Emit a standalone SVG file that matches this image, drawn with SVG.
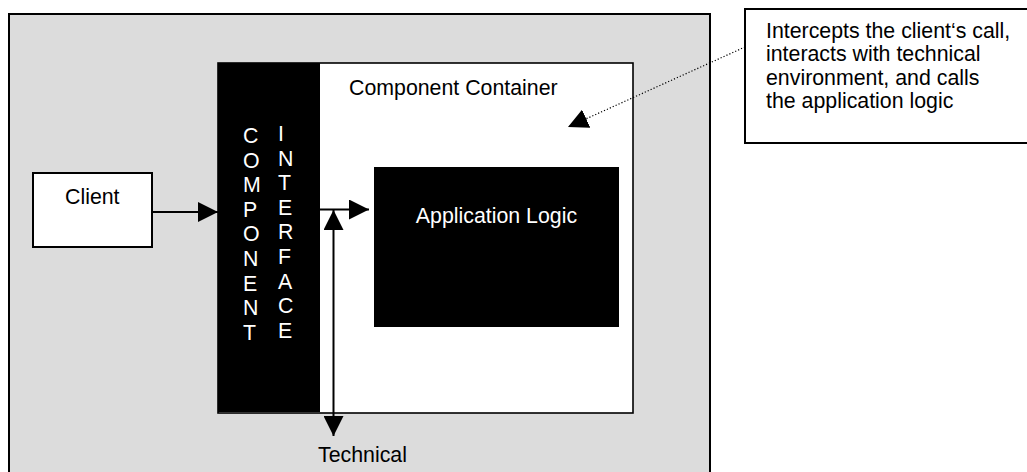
<svg xmlns="http://www.w3.org/2000/svg" width="1027" height="472" viewBox="0 0 1027 472">
  <style>
    .lbl { font-family: "Liberation Sans", Arial, sans-serif; font-size: 21.33px; fill: #000; }
    .inv { fill: #fff; }
    .box { stroke: #000; stroke-width: 2; }
    .conn { stroke: #000; stroke-width: 2; fill: none; }
    .dots { stroke: #000; stroke-width: 1.2; fill: none; stroke-dasharray: 1.2 2; }
  </style>
  <defs>
    <marker id="head" markerUnits="userSpaceOnUse" viewBox="0 0 20 20" refX="20" refY="10" markerWidth="20" markerHeight="20" orient="auto-start-reverse">
      <path d="M0,0 L20,10 L0,20 z" fill="#000"/>
    </marker>
  </defs>

  <!-- runtime environment (outer area) -->
  <g id="environment">
    <rect x="9" y="14" width="701" height="470" fill="#dcdcdc" class="box"/>
    <text class="lbl" x="318" y="462">Technical</text>
  </g>

  <!-- component container with its interface column -->
  <g id="container">
    <rect x="218" y="63" width="415" height="350" fill="#fff" stroke="#000" stroke-width="1.6"/>
    <text class="lbl" x="349" y="95">Component Container</text>
  </g>

  <g id="interface">
    <rect x="218" y="63" width="102" height="349" fill="#000"/>
    <text class="lbl inv" x="243">
      <tspan x="243" y="143">C</tspan>
      <tspan x="243" y="167.6">O</tspan>
      <tspan x="243" y="192.2">M</tspan>
      <tspan x="243" y="216.8">P</tspan>
      <tspan x="243" y="241.4">O</tspan>
      <tspan x="243" y="266">N</tspan>
      <tspan x="243" y="290.6">E</tspan>
      <tspan x="243" y="315.2">N</tspan>
      <tspan x="243" y="339.8">T</tspan>
    </text>
    <text class="lbl inv" x="278">
      <tspan x="278" y="141">I</tspan>
      <tspan x="278" y="165.6">N</tspan>
      <tspan x="278" y="190.2">T</tspan>
      <tspan x="278" y="214.8">E</tspan>
      <tspan x="278" y="239.4">R</tspan>
      <tspan x="278" y="264">F</tspan>
      <tspan x="278" y="288.6">A</tspan>
      <tspan x="278" y="313.2">C</tspan>
      <tspan x="278" y="337.8">E</tspan>
    </text>
  </g>

  <g id="client">
    <rect x="33" y="173" width="119" height="74" fill="#fff" class="box"/>
    <text class="lbl" x="65" y="204">Client</text>
  </g>

  <g id="application-logic">
    <rect x="374" y="167" width="245" height="160" fill="#000"/>
    <text class="lbl inv" x="496.5" y="223" text-anchor="middle">Application Logic</text>
  </g>

  <g id="note">
    <rect x="745" y="9" width="290" height="134" fill="#fff" class="box"/>
    <text class="lbl">
      <tspan x="766" y="38">Intercepts the client‘s call,</tspan>
      <tspan x="766" y="61.4">interacts with technical</tspan>
      <tspan x="766" y="84.8">environment, and calls</tspan>
      <tspan x="766" y="108.2">the application logic</tspan>
    </text>
  </g>

  <g id="connectors">
    <line class="conn" x1="152" y1="212" x2="218" y2="212" marker-end="url(#head)"/>
    <line class="conn" x1="320" y1="209.5" x2="369" y2="209.5" marker-end="url(#head)"/>
    <line class="conn" x1="333.5" y1="210" x2="333.5" y2="436" marker-start="url(#head)" marker-end="url(#head)"/>
    <line class="dots" x1="745" y1="47" x2="568" y2="127" marker-end="url(#head)"/>
  </g>
</svg>
